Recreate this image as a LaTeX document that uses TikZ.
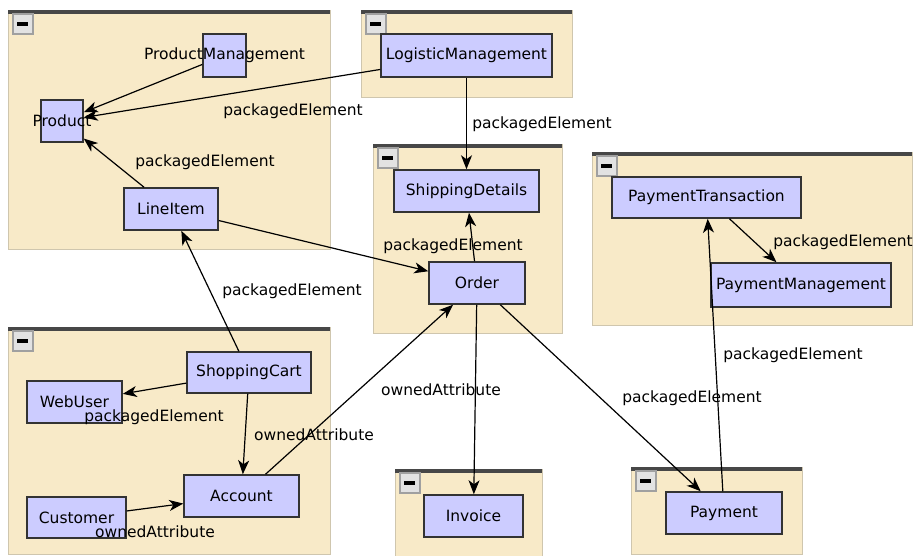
\documentclass[tikz,border=0pt]{standalone}
\usepackage{fontspec}
\setmainfont{DejaVu Sans}
\usetikzlibrary{arrows.meta,calc}
\definecolor{pkgfill}{HTML}{F8EAC8}
\definecolor{pkgedge}{HTML}{CFC6AE}
\definecolor{pkgbar}{HTML}{474747}
\definecolor{classfill}{HTML}{CCCCFF}
\definecolor{classedge}{HTML}{333333}
\definecolor{iconfill}{HTML}{E2E2E2}
\definecolor{iconedge}{HTML}{A0A0A0}

% package frame: name, left, top, right, bottom
\newcommand\umlpkg[5]{%
  \path[pkg] (#2,#3) rectangle (#4,#5);
  \draw[pkgtop] (#2,#3+1.8) -- (#4,#3+1.8);
  \node[minusicon] (#1) at (#2+4,#3+3.5) {};
}

\begin{document}
\begin{tikzpicture}[x=1pt,y=-1pt,
  font=\fontsize{15.5}{18}\selectfont,
  pkg/.style={draw=pkgedge, line width=1pt, fill=pkgfill},
  pkgtop/.style={draw=pkgbar, line width=4pt},
  minusicon/.style={draw=iconedge, fill=iconfill, line width=1pt,
    double=white, double distance=0pt,
    minimum width=20pt, minimum height=20pt, inner sep=0pt, anchor=north west,
    path picture={\fill[black]
      ($(path picture bounding box.center)+(-5.5pt,-1.6pt)$) rectangle
      ($(path picture bounding box.center)+(5.5pt,1.6pt)$);}},
  cls/.style={draw=classedge, fill=classfill, line width=1.5pt, inner sep=0pt, text=black},
  rel/.style={-{Stealth[length=14pt,width=11pt,inset=4pt]}, line width=1.2pt, black},
  tag/.style={inner sep=0pt, text=black}
]
\useasboundingbox (0,0) rectangle (917,555);

% packages
\umlpkg{pkgProduct}{8}{10}{330}{249}
\umlpkg{pkgLogistic}{361}{10}{572}{97}
\umlpkg{pkgOrder}{373}{144}{562}{333}
\umlpkg{pkgPayTrans}{592}{152}{912}{325}
\umlpkg{pkgUser}{8}{327}{330}{554}
\umlpkg{pkgInvoice}{395}{469}{542}{556}
\umlpkg{pkgPayment}{631}{467}{802}{554}

% classes
\node[cls, minimum width=42pt, minimum height=42pt, label={[tag]center:Product}] (Product) at (62,121) {};
\node[cls, minimum width=43pt, minimum height=43pt, label={[tag]center:ProductManagement}] (ProductManagement) at (224.5,55.5) {};
\node[cls, minimum width=94pt, minimum height=42pt] (LineItem) at (171,209) {LineItem};
\node[cls, minimum width=171pt, minimum height=43pt] (LogisticManagement) at (466.5,55.5) {LogisticManagement};
\node[cls, minimum width=145pt, minimum height=42pt] (ShippingDetails) at (466.5,191) {ShippingDetails};
\node[cls, minimum width=96pt, minimum height=42pt] (Order) at (477,283) {Order};
\node[cls, minimum width=189pt, minimum height=41pt] (PaymentTransaction) at (706.5,197.5) {PaymentTransaction};
\node[cls, minimum width=180pt, minimum height=44pt] (PaymentManagement) at (801,285) {PaymentManagement};
\node[cls, minimum width=124pt, minimum height=41pt] (ShoppingCart) at (249,372.5) {ShoppingCart};
\node[cls, minimum width=95pt, minimum height=42pt] (WebUser) at (74.5,402) {WebUser};
\node[cls, minimum width=115pt, minimum height=42pt] (Account) at (241.5,496) {Account};
\node[cls, minimum width=99pt, minimum height=41pt] (Customer) at (76.5,517.5) {Customer};
\node[cls, minimum width=99pt, minimum height=42pt] (Invoice) at (473.5,516) {Invoice};
\node[cls, minimum width=116pt, minimum height=42pt] (Payment) at (724,513) {Payment};

% relations
\draw[rel] (ProductManagement) -- (Product);
\draw[rel] (LogisticManagement) -- (Product);
\draw[rel] (LineItem) -- (Product);
\draw[rel] (LogisticManagement) -- (ShippingDetails);
\draw[rel] (Order) -- (ShippingDetails);
\draw[rel] (LineItem) -- (Order);
\draw[rel] (ShoppingCart) -- (LineItem);
\draw[rel] (ShoppingCart) -- (WebUser);
\draw[rel] (ShoppingCart) -- (Account);
\draw[rel] (Customer) -- (Account);
\draw[rel] (Account) -- (Order);
\draw[rel] (Order) -- (Invoice);
\draw[rel] (Order) -- (Payment);
\draw[rel] (Payment) -- (PaymentTransaction);
\draw[rel] (PaymentTransaction) -- (PaymentManagement);

% relation names
\node[tag] (t1) at (293,111) {packagedElement};
\node[tag] (t2) at (205,162) {packagedElement};
\node[tag] (t3) at (542,124) {packagedElement};
\node[tag] (t4) at (453,246) {packagedElement};
\node[tag] (t5) at (292,291) {packagedElement};
\node[tag] (t6) at (154,417) {packagedElement};
\node[tag] (t7) at (314,435) {ownedAttribute};
\node[tag] (t8) at (441,390) {ownedAttribute};
\node[tag] (t9) at (155,532) {ownedAttribute};
\node[tag] (t10) at (843,242) {packagedElement};
\node[tag] (t11) at (793,355) {packagedElement};
\node[tag] (t12) at (692,398) {packagedElement};
\end{tikzpicture}
\end{document}
